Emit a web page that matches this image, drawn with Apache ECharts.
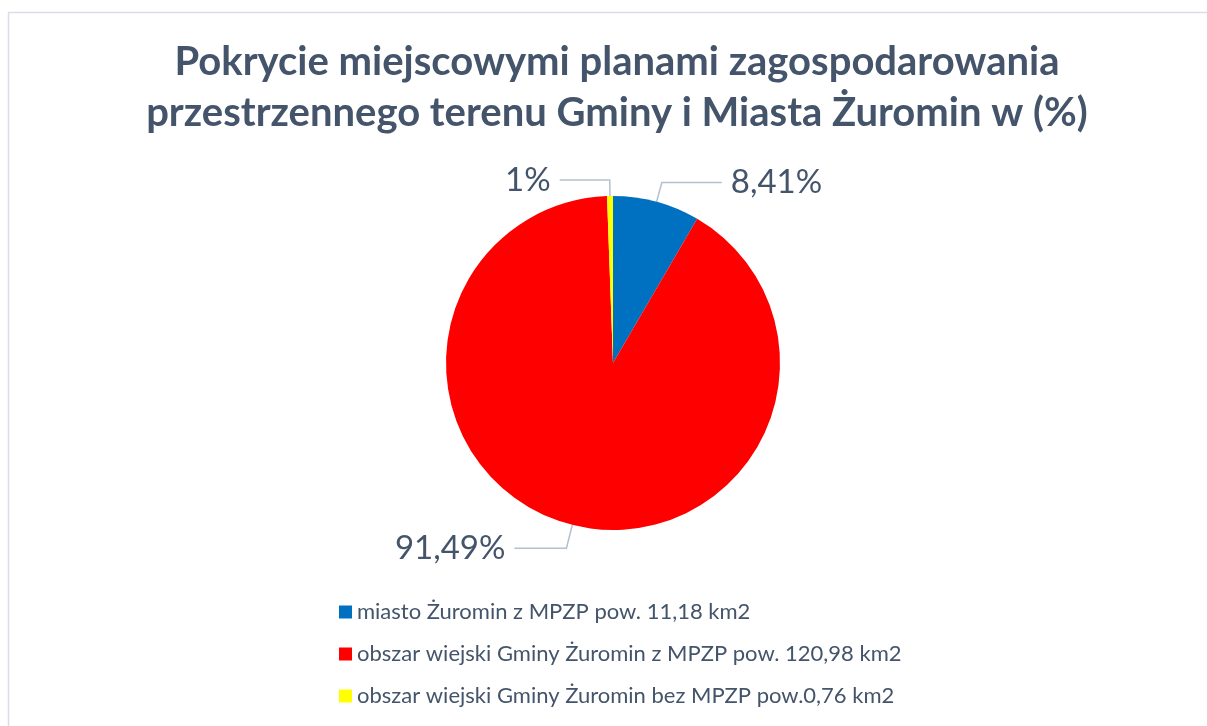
<!DOCTYPE html>
<html>
<head>
<meta charset="utf-8">
<script src="https://cdn.jsdelivr.net/npm/echarts@6/dist/echarts.min.js"></script>
<style>
  html, body { margin: 0; padding: 0; background: #fff; }
  #main { width: 1207px; height: 726px; }
</style>
</head>
<body>
<div id="main"></div>
<script>
// dane z wykresu
const categories = [
  'miasto Żuromin z MPZP pow. 11,18 km2',
  'obszar wiejski Gminy Żuromin z MPZP pow. 120,98 km2',
  'obszar wiejski Gminy Żuromin bez MPZP pow.0,76 km2'
];
const areas = [11.18, 120.98, 0.76];           // km2
const labels = ['8,41%', '91,49%', '1%'];       // etykiety jak w oryginale
const colors = ['#0070c0', '#ff0000', '#ffff00'];

// długości linii odniesienia dla etykiet
const lineLen = [[20, 60], [24, 52], [16, 50]];

const chart = echarts.init(document.getElementById('main'), null, { renderer: 'canvas' });

const option = {
  animation: false,
  backgroundColor: '#ffffff',
  title: {
    text: 'Pokrycie miejscowymi planami zagospodarowania\nprzestrzennego terenu Gminy i Miasta Żuromin w (%)',
    left: 612,
    top: 32,
    textAlign: 'center',
    textStyle: {
      fontFamily: 'Lato',
      fontWeight: 'bold',
      fontSize: 40,
      lineHeight: 51,
      color: '#44546a'
    }
  },
  legend: {
    orient: 'vertical',
    left: 334,
    top: 594,
    icon: 'rect',
    itemWidth: 13,
    itemHeight: 13,
    itemGap: 16,
    data: categories,
    textStyle: {
      fontFamily: 'Lato',
      fontSize: 22,
      lineHeight: 26,
      color: '#44546a'
    }
  },
  graphic: [{
    type: 'rect',
    silent: true,
    shape: { x: 8.5, y: 12.5, width: 1400, height: 900 },
    style: { fill: 'none', stroke: '#d9dee6', lineWidth: 1.5 }
  }],
  series: [{
    type: 'pie',
    center: [613, 363],
    radius: [0, 167],
    startAngle: 90,
    clockwise: true,
    avoidLabelOverlap: false,
    data: categories.map((name, i) => ({
      name: name,
      value: areas[i],
      itemStyle: { color: colors[i] },
      labelLine: { length: lineLen[i][0], length2: lineLen[i][1] }
    })),
    label: {
      show: true,
      formatter: p => labels[p.dataIndex],
      fontFamily: 'Lato',
      fontSize: 33,
      color: '#44546a',
      padding: [0, 4]
    },
    labelLine: {
      show: true,
      lineStyle: { color: '#b4c0d0', width: 1.5 }
    },
    itemStyle: { borderWidth: 0 },
    emphasis: { disabled: true }
  }]
};

chart.setOption(option);
window.addEventListener('resize', chart.resize);
</script>
</body>
</html>
